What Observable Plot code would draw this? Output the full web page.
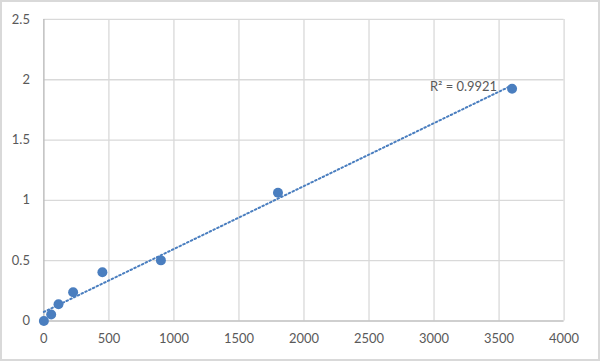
<!DOCTYPE html>
<html>
<head>
<meta charset="utf-8">
<script src="https://cdn.jsdelivr.net/npm/d3@7"></script>
<script src="https://cdn.jsdelivr.net/npm/@observablehq/plot@0.6"></script>
<style>
  html, body { margin: 0; padding: 0; background: #fff; }
  #frame { position: relative; width: 600px; height: 361px; box-sizing: border-box; border: 2px solid #d9d9d9; overflow: hidden; }
  #chart { position: absolute; left: -2px; top: -2px; }
</style>
</head>
<body>
<div id="frame"><div id="chart"></div></div>
<script>
const concentration = [0, 56.25, 112.5, 225, 450, 900, 1800, 3600];
const od = [0, 0.054, 0.139, 0.238, 0.403, 0.502, 1.062, 1.926];
const xTicks = [0, 500, 1000, 1500, 2000, 2500, 3000, 3500, 4000];
const yTicks = [0, 0.5, 1, 1.5, 2, 2.5];
const r2Label = "R² = 0.9921";

const data = concentration.map((x, i) => ({x, y: od[i]}));
const blue = "#4a7ebf";
const font = "Lato, 'Open Sans', sans-serif";

const chart = Plot.plot({
  width: 600,
  height: 361,
  marginLeft: 43.5,
  marginRight: 34.5,
  marginTop: 19,
  marginBottom: 39.5,
  style: {fontFamily: font, fontSize: "13px", color: "#595959", background: "transparent"},
  x: {domain: [0, 4000], ticks: xTicks, tickSize: 0, tickPadding: 13, label: null, tickFormat: d => String(d)},
  y: {domain: [0, 2.5], ticks: yTicks, tickSize: 0, tickPadding: 14, label: null, tickFormat: d => String(d)},
  marks: [
    Plot.gridX(xTicks.filter(d => d > 0), {stroke: "#d9d9d9", strokeOpacity: 1, strokeWidth: 1.3}),
    Plot.gridY(yTicks.filter(d => d > 0), {stroke: "#d9d9d9", strokeOpacity: 1, strokeWidth: 1.3}),
    Plot.ruleX([0], {stroke: "#bfbfbf", strokeWidth: 1.5}),
    Plot.ruleY([0], {stroke: "#bfbfbf", strokeWidth: 1.5}),
    Plot.linearRegressionY(data, {x: "x", y: "y", ci: 0, stroke: blue, strokeWidth: 2, strokeDasharray: "1.6,2.6"}),
    Plot.dot(data, {x: "x", y: "y", r: 5, fill: blue, stroke: null}),
    Plot.text([r2Label], {x: [3600], y: [1.926], text: d => d, textAnchor: "end", dx: -15, dy: -2, fill: "#595959", fontSize: 13})
  ]
});
document.getElementById("chart").appendChild(chart);
</script>
</body>
</html>
